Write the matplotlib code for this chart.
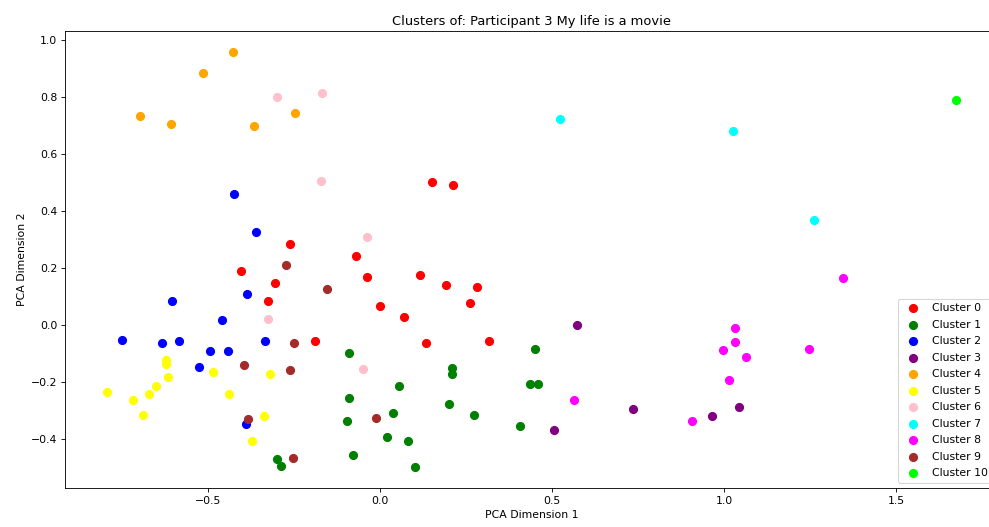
import matplotlib
matplotlib.use("Agg")
import matplotlib.pyplot as plt

title = "Clusters of: Participant 3 My life is a movie"

cluster_names = [f"Cluster {i}" for i in range(11)]
cluster_colors = ["red", "green", "blue", "purple", "orange", "yellow",
                  "pink", "cyan", "magenta", "brown", "lime"]

c0_x = [-0.406, -0.261, -0.071, -0.039, -0.307, -0.326, 0.000, -0.189, 0.116,
        0.190, 0.281, 0.260, 0.068, 0.133, 0.315, 0.150, 0.212]
c0_y = [0.189, 0.283, 0.240, 0.168, 0.146, 0.085, 0.067, -0.055, 0.173,
        0.140, 0.132, 0.075, 0.027, -0.063, -0.058, 0.502, 0.489]

c1_x = [-0.090, -0.090, -0.096, 0.037, 0.020, -0.078, -0.300, -0.287, 0.449,
        0.209, 0.209, 0.055, 0.437, 0.459, 0.199, 0.272, 0.407, 0.080, 0.100]
c1_y = [-0.099, -0.258, -0.337, -0.309, -0.394, -0.455, -0.469, -0.495, -0.085,
        -0.152, -0.172, -0.215, -0.209, -0.207, -0.276, -0.315, -0.353, -0.408, -0.499]

c2_x = [-0.426, -0.361, -0.387, -0.606, -0.460, -0.752, -0.634, -0.585, -0.334,
        -0.494, -0.442, -0.528, -0.390]
c2_y = [0.457, 0.325, 0.108, 0.082, 0.016, -0.053, -0.063, -0.055, -0.055,
        -0.090, -0.090, -0.146, -0.347]

c3_x = [0.573, 0.735, 0.506, 1.043, 0.965]
c3_y = [0.000, -0.296, -0.367, -0.287, -0.320]

c4_x = [-0.429, -0.515, -0.698, -0.609, -0.367, -0.248]
c4_y = [0.957, 0.883, 0.733, 0.703, 0.698, 0.744]

c5_x = [-0.622, -0.622, -0.485, -0.319, -0.618, -0.652, -0.793, -0.672, -0.439,
        -0.720, -0.690, -0.339, -0.374]
c5_y = [-0.122, -0.136, -0.164, -0.174, -0.182, -0.215, -0.235, -0.243, -0.243,
        -0.265, -0.317, -0.319, -0.406]

c6_x = [-0.300, -0.168, -0.171, -0.039, -0.326, -0.050]
c6_y = [0.799, 0.814, 0.504, 0.309, 0.019, -0.154]

c7_x = [0.522, 1.026, 1.260]
c7_y = [0.723, 0.678, 0.367]

c8_x = [0.565, 1.345, 1.032, 1.032, 0.996, 1.064, 1.248, 1.013, 0.906]
c8_y = [-0.264, 0.163, -0.012, -0.061, -0.089, -0.111, -0.083, -0.193, -0.337]

c9_x = [-0.275, -0.155, -0.250, -0.396, -0.262, -0.385, -0.011, -0.252]
c9_y = [0.208, 0.124, -0.063, -0.141, -0.160, -0.331, -0.325, -0.467]

c10_x = [1.673]
c10_y = [0.788]

xs = [c0_x, c1_x, c2_x, c3_x, c4_x, c5_x, c6_x, c7_x, c8_x, c9_x, c10_x]
ys = [c0_y, c1_y, c2_y, c3_y, c4_y, c5_y, c6_y, c7_y, c8_y, c9_y, c10_y]

W, H = 989, 527
DPI = 78
fig = plt.figure(figsize=(W / DPI, H / DPI), dpi=DPI)
left, right, top, bottom = 65, 998, 31, 488
ax = fig.add_axes([left / W, (H - bottom) / H, (right - left) / W, (bottom - top) / H])

for x, y, name, col in zip(xs, ys, cluster_names, cluster_colors):
    ax.scatter(x, y, s=55, color=col, label=name)

ax.set_title(title)
ax.set_xlabel("PCA Dimension 1")
ax.set_ylabel("PCA Dimension 2")
ax.legend(loc="lower right", labelspacing=0.6)

fig.savefig("out.png", dpi=DPI)
